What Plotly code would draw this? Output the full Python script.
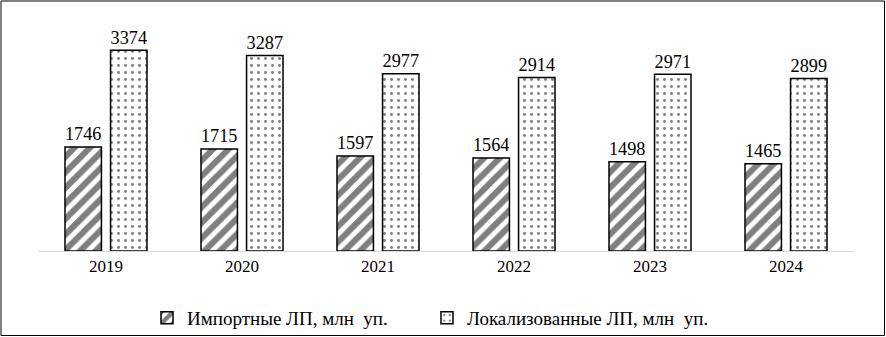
import plotly.graph_objects as go

years = ["2019", "2020", "2021", "2022", "2023", "2024"]
imported = [1746, 1715, 1597, 1564, 1498, 1465]
localized = [3374, 3287, 2977, 2914, 2971, 2899]
names = ["Импортные ЛП, млн  уп.", "Локализованные ЛП, млн  уп."]

W, H = 886, 337
L, R, T, B = 38, 32, 13, 86
pw, ph = W - L - R, H - T - B

font = "Times New Roman"

fig = go.Figure()
fig.add_trace(go.Bar(
    x=years, y=imported, name=names[0],
    marker=dict(color="white", line=dict(color="black", width=1.5),
                pattern=dict(shape="/", fgcolor="black", bgcolor="white",
                             size=11, solidity=0.55, fillmode="overlay")),
    text=imported, textposition="outside", cliponaxis=False,
    textfont=dict(size=20, color="black", family=font),
))
fig.add_trace(go.Bar(
    x=years, y=localized, name=names[1],
    marker=dict(color="white", line=dict(color="black", width=1.5),
                pattern=dict(shape=".", fgcolor="black", bgcolor="white",
                             size=7, solidity=0.14, fillmode="overlay")),
    text=localized, textposition="outside", cliponaxis=False,
    textfont=dict(size=20, color="black", family=font),
))

def px_x(p):
    return (p - L) / pw

def px_y(p):
    return (H - B - p) / ph

fig.add_shape(type="rect", xref="paper", yref="paper", layer="above",
              x0=px_x(1), x1=px_x(884.5), y0=px_y(335.5), y1=px_y(1),
              line=dict(color="black", width=1), fillcolor="rgba(0,0,0,0)")

fig.update_layout(
    width=W, height=H,
    margin=dict(l=L, r=R, t=T, b=B, pad=0, autoexpand=False),
    paper_bgcolor="white", plot_bgcolor="white",
    barmode="group", bargap=0.33, bargroupgap=0.2,
    font=dict(family=font, color="black"),
    xaxis=dict(showline=True, linecolor="#d9d9d9", linewidth=1, ticks="",
               tickfont=dict(size=17, family=font, color="black"), showgrid=False),
    yaxis=dict(range=[0, 4000], visible=False, showgrid=False),
    legend=dict(orientation="h", x=px_x(147), xanchor="left", y=px_y(318), yanchor="middle",
                bgcolor="rgba(0,0,0,0)",
                font=dict(size=19, family=font, color="black"),
                itemwidth=30, entrywidth=235, entrywidthmode="pixels"),
    showlegend=True,
)

fig.write_html("out.html")
